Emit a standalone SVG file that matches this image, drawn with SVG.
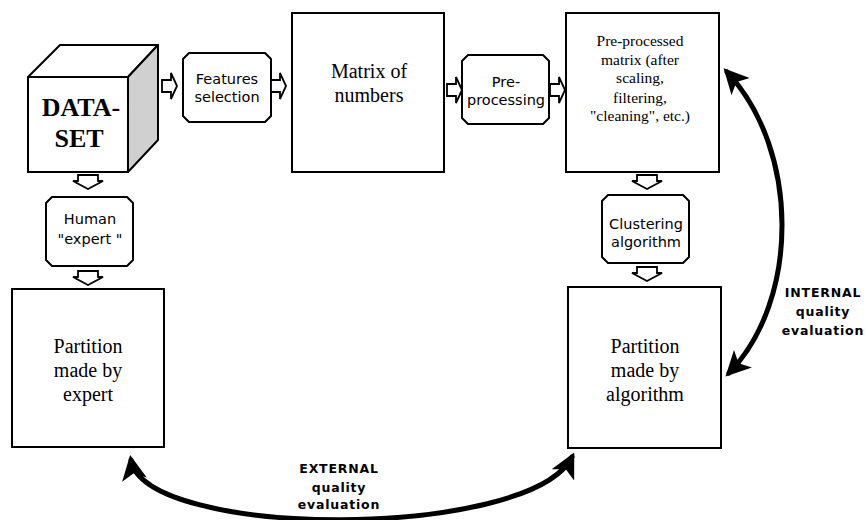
<svg xmlns="http://www.w3.org/2000/svg" width="868" height="520" viewBox="0 0 868 520">
<defs>
<style>
.box{fill:#fff;stroke:#000;stroke-width:2}
.proc{fill:#fff;stroke:#000;stroke-width:2;stroke-linejoin:round}
.ser{font-family:"Liberation Serif","Times New Roman",serif;fill:#000;text-anchor:middle}
.san{font-family:"DejaVu Sans","Verdana",sans-serif;fill:#000;text-anchor:middle;font-size:14.5px}
.lab{font-family:"DejaVu Sans","Verdana",sans-serif;font-weight:bold;font-size:12.5px;fill:#000;text-anchor:middle;letter-spacing:0.8px}
.ha{fill:#fff;stroke:#000;stroke-width:1.8;stroke-linejoin:miter}
.curve{fill:none;stroke:#000;stroke-width:5;stroke-linecap:round}
</style>
<marker id="ah" viewBox="0 0 10 10" refX="8" refY="5" markerWidth="5" markerHeight="5" orient="auto-start-reverse" markerUnits="strokeWidth">
<path d="M0,0 L10,5 L0,10 L2.5,5 Z" fill="#000"/>
</marker>
<path id="ra" d="M0,-6 L9,-6 L9,-13 L15,0 L9,13 L9,6 L0,6 Z"/>
<path id="da" d="M-10,0 L10,0 L10,6 L15,6 L0,14 L-15,6 L-10,6 Z"/>
</defs>

<g id="dataset">
<path d="M28,77 L60,45 L158,45 L128,77 Z" fill="#fff" stroke="#000" stroke-width="2" stroke-linejoin="round"/>
<path d="M128,77 L158,45 L158,140 L128,172 Z" fill="#d0d0d0" stroke="#000" stroke-width="2" stroke-linejoin="round"/>
<rect x="28" y="77" width="100" height="95" class="box"/>
<text class="ser" x="81" y="116" font-size="26" font-weight="bold">DATA-</text>
<text class="ser" x="79" y="147" font-size="26" font-weight="bold">SET</text>
</g>

<g id="features">
<path class="proc" d="M189,53 L265,53 L271,59 L271,116 L265,122 L189,122 L183,116 L183,59 Z"/>
<text class="san" x="227" y="84">Features</text>
<text class="san" x="227" y="102">selection</text>
</g>

<g id="matrix">
<rect x="292" y="13" width="152" height="159" class="box"/>
<text class="ser" x="369" y="78" font-size="20">Matrix of</text>
<text class="ser" x="369" y="102" font-size="20">numbers</text>
</g>

<g id="preprocessing">
<path class="proc" d="M468,55 L543,55 L549,61 L549,118 L543,124 L468,124 L462,118 L462,61 Z"/>
<text class="san" x="506" y="87">Pre-</text>
<text class="san" x="506" y="105">processing</text>
</g>

<g id="preprocessed">
<rect x="566" y="13" width="153" height="159" class="box"/>
<text class="ser" x="640" y="46" font-size="15.5">Pre-processed</text>
<text class="ser" x="640" y="65" font-size="15.5">matrix (after</text>
<text class="ser" x="640" y="83" font-size="15.5">scaling,</text>
<text class="ser" x="640" y="103" font-size="15.5">filtering,</text>
<text class="ser" x="640" y="121" font-size="15.5">"cleaning", etc.)</text>
</g>

<g id="clustering">
<path class="proc" d="M608,195 L683,195 L689,201 L689,257 L683,263 L608,263 L602,257 L602,201 Z"/>
<text class="san" x="646" y="229">Clustering</text>
<text class="san" x="646" y="247">algorithm</text>
</g>

<g id="partition-algorithm">
<rect x="568" y="287" width="153" height="161" class="box"/>
<text class="ser" x="645" y="353" font-size="20">Partition</text>
<text class="ser" x="645" y="377" font-size="20">made by</text>
<text class="ser" x="645" y="401" font-size="20">algorithm</text>
</g>

<g id="human">
<path class="proc" d="M52,197 L127,197 L133,203 L133,260 L127,266 L52,266 L46,260 L46,203 Z"/>
<text class="san" x="90" y="224">Human</text>
<text class="san" x="90" y="244">"expert "</text>
</g>

<g id="partition-expert">
<rect x="12" y="289" width="152" height="158" class="box"/>
<text class="ser" x="88" y="353" font-size="20">Partition</text>
<text class="ser" x="88" y="377" font-size="20">made by</text>
<text class="ser" x="88" y="401" font-size="20">expert</text>
</g>

<g id="labels">
<text class="lab" x="823" y="297">INTERNAL</text>
<text class="lab" x="823" y="316">quality</text>
<text class="lab" x="823" y="335">evaluation</text>
<text class="lab" x="339" y="473">EXTERNAL</text>
<text class="lab" x="339" y="492">quality</text>
<text class="lab" x="339" y="509">evaluation</text>
</g>

<g id="connectors">
<use href="#ra" class="ha" x="162" y="86"/>
<use href="#ra" class="ha" x="271" y="86"/>
<use href="#ra" class="ha" x="447" y="90"/>
<use href="#ra" class="ha" x="550" y="90"/>
<use href="#da" class="ha" x="88" y="175"/>
<use href="#da" class="ha" x="88" y="271"/>
<use href="#da" class="ha" x="647" y="175"/>
<use href="#da" class="ha" x="647" y="267"/>
<path class="curve" d="M729,373 C800,300 800,150 727,72" marker-start="url(#ah)" marker-end="url(#ah)"/>
<path class="curve" d="M131,460 C145,540 530,540 572,457" marker-start="url(#ah)" marker-end="url(#ah)"/>
</g>
</svg>
